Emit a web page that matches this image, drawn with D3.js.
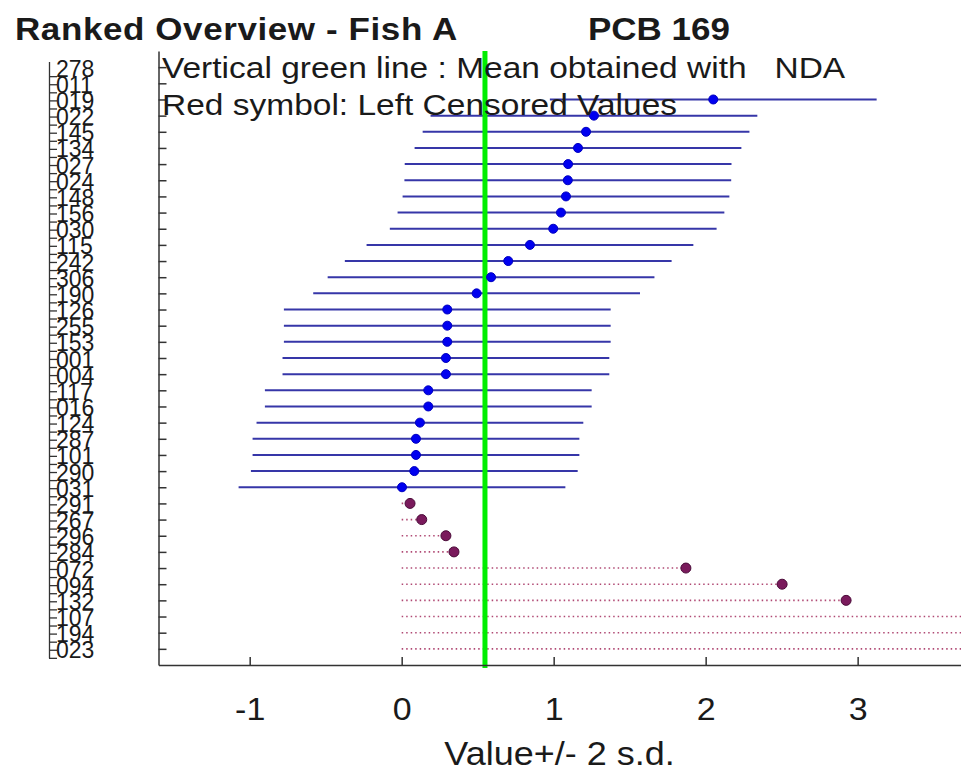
<!DOCTYPE html>
<html lang="en">
<head>
  <meta charset="UTF-8">
  <title>Ranked Overview - Fish A</title>
  <script src="https://d3js.org/d3.v7.min.js"></script>
  <style>
    body { margin: 0; background: #fff; overflow: hidden; }
    text { font-family: "Liberation Sans", Arial, sans-serif; fill: #1a1a1a; }
  </style>
</head>
<body>
<div class="main"></div>
<script>

  // lab codes, top to bottom as ranked in the chart
  const labCodes = ["278","011","019","022","145","134","027","024","148","156","030","115","242","306","190",
    "126","255","153","001","004","117","016","124","287","101","290","031",
    "291","267","296","284","072","094","132","107","194","023"];

  // reported values (ng/g)
  const labValues = [6.1, 5.3, 2.05, 1.265, 1.213, 1.160, 1.095, 1.093, 1.081, 1.048, 0.997, 0.844, 0.701, 0.588, 0.493,
    0.300, 0.300, 0.300, 0.291, 0.291, 0.175, 0.175, 0.120, 0.094, 0.094, 0.083, 0.002,
    0.055, 0.132, 0.291, 0.344, 1.870, 2.503, 2.924, 3.95, 4.4, 4.9];

  // left censored values (red symbols)
  const censored = ["291","267","296","284","072","094","132","107","194","023"];

  const twoSd = 1.075;       // half width of every error bar
  const meanNDA = 0.548;     // green line
  const xTicks = [-1, 0, 1, 2, 3];

  const width = 961, height = 775;
  const squish = 0.9;

  var rows = labCodes.map(function (c, i) {
    return {code: c, rank: i + 1, value: labValues[i], cens: censored.indexOf(c) >= 0};
  });

  var xScale = d3.scaleLinear().domain([-1.6, 3.68]).range([158.5, 961]);
  var yScale = d3.scaleLinear().domain([0, labCodes.length + 1]).range([51, 665]);

  var svg = d3.select(".main").append("svg")
          .attr("width", width)
          .attr("height", height)
          .style("display", "block");

  function label(x, y, txt, size, weight, anchor) {
    return svg.append("text")
            .attr("transform", `translate(${x},${y}) scale(1,${squish})`)
            .style("font-size", size + "px")
            .style("font-weight", weight || "normal")
            .attr("text-anchor", anchor || "start")
            .style("white-space", "pre")
            .text(txt);
  }

  // error bars for non censored results
  var plot = svg.append("g");
  plot.selectAll("line.bar")
          .data(rows.filter(d => !d.cens))
          .join("line")
          .attr("class", "bar")
          .attr("x1", d => xScale(d.value - twoSd))
          .attr("x2", d => xScale(d.value + twoSd))
          .attr("y1", d => yScale(d.rank))
          .attr("y2", d => yScale(d.rank))
          .style("stroke", "#3636a8")
          .style("stroke-width", 2);

  // dotted lines for censored results, from zero to the value
  plot.selectAll("line.cens")
          .data(rows.filter(d => d.cens))
          .join("line")
          .attr("class", "cens")
          .attr("x1", xScale(0))
          .attr("x2", d => xScale(d.value))
          .attr("y1", d => yScale(d.rank))
          .attr("y2", d => yScale(d.rank))
          .style("stroke", "#b04a74")
          .style("stroke-width", 1.6)
          .style("stroke-dasharray", "1.5,3");

  // mean line
  plot.append("line")
          .attr("x1", xScale(meanNDA)).attr("x2", xScale(meanNDA))
          .attr("y1", yScale(0)).attr("y2", yScale(labCodes.length + 1) + 3)
          .style("stroke", "#00ee00")
          .style("stroke-width", 5);

  plot.selectAll("circle")
          .data(rows)
          .join("circle")
          .attr("cx", d => xScale(d.value))
          .attr("cy", d => yScale(d.rank))
          .attr("r", d => d.cens ? 5 : 4.5)
          .style("fill", d => d.cens ? "#7a1a5c" : "#0000f0")
          .style("stroke", d => d.cens ? "#4a0a38" : "#0000c0")
          .style("stroke-width", 1);

  // plot axes
  var yAxis = d3.axisRight(yScale)
          .tickValues(d3.range(1, labCodes.length + 1))
          .tickSize(8)
          .tickSizeOuter(0)
          .tickFormat("");
  svg.append("g").attr("transform", "translate(158.5,0)").call(yAxis)
          .call(g => g.selectAll("line,path").style("stroke", "#333").style("stroke-width", 1.5));

  var xAxis = d3.axisBottom(xScale)
          .tickValues(xTicks)
          .tickSizeInner(-8)
          .tickSizeOuter(0)
          .tickFormat(d3.format("d"));
  var xg = svg.append("g").attr("transform", "translate(0,665)").call(xAxis);
  xg.selectAll("line,path").style("stroke", "#333").style("stroke-width", 1.5);
  xg.selectAll("text")
          .attr("y", null).attr("dy", null)
          .attr("transform", `translate(0,55) scale(1,${squish})`)
          .style("font-size", "34px")
          .style("font-family", "'Liberation Sans', Arial, sans-serif")
          .style("fill", "#1a1a1a")
          .text(d => d < 0 ? "-" + Math.abs(d) : d);

  // lab code axis on the far left
  var yLab = d3.scaleLinear()
          .domain([0.1, labCodes.length])
          .range([yScale(0.1) + 9, yScale(labCodes.length) + 9]);
  var labAxis = d3.axisRight(yLab)
          .tickValues(d3.range(1, labCodes.length + 0.01, 0.5))
          .tickSize(8)
          .tickSizeOuter(0)
          .tickPadding(2)
          .tickFormat(d => Number.isInteger(d) ? labCodes[d - 1] : "");
  var lg = svg.append("g").attr("transform", "translate(49,0)").call(labAxis);
  lg.selectAll("line,path").style("stroke", "#333").style("stroke-width", 1.3);
  lg.selectAll("text")
          .attr("x", null).attr("dy", null)
          .attr("transform", "translate(7,0)")
          .style("font-size", "23px")
          .style("font-family", "'Liberation Sans', Arial, sans-serif")
          .style("fill", "#1a1a1a");

  // titles and notes
  label(15, 40, "Ranked Overview - Fish A", 35, "bold").style("letter-spacing", "0.6px");
  label(588, 40, "PCB 169", 35, "bold");
  label(162, 78, "Vertical green line : Mean obtained with   NDA", 33.5);
  label(162, 115, "Red symbol: Left Censored Values", 33.5);
  label(559.5, 765, "Value+/- 2 s.d.", 36, "normal", "middle");

</script>
</body>
</html>
